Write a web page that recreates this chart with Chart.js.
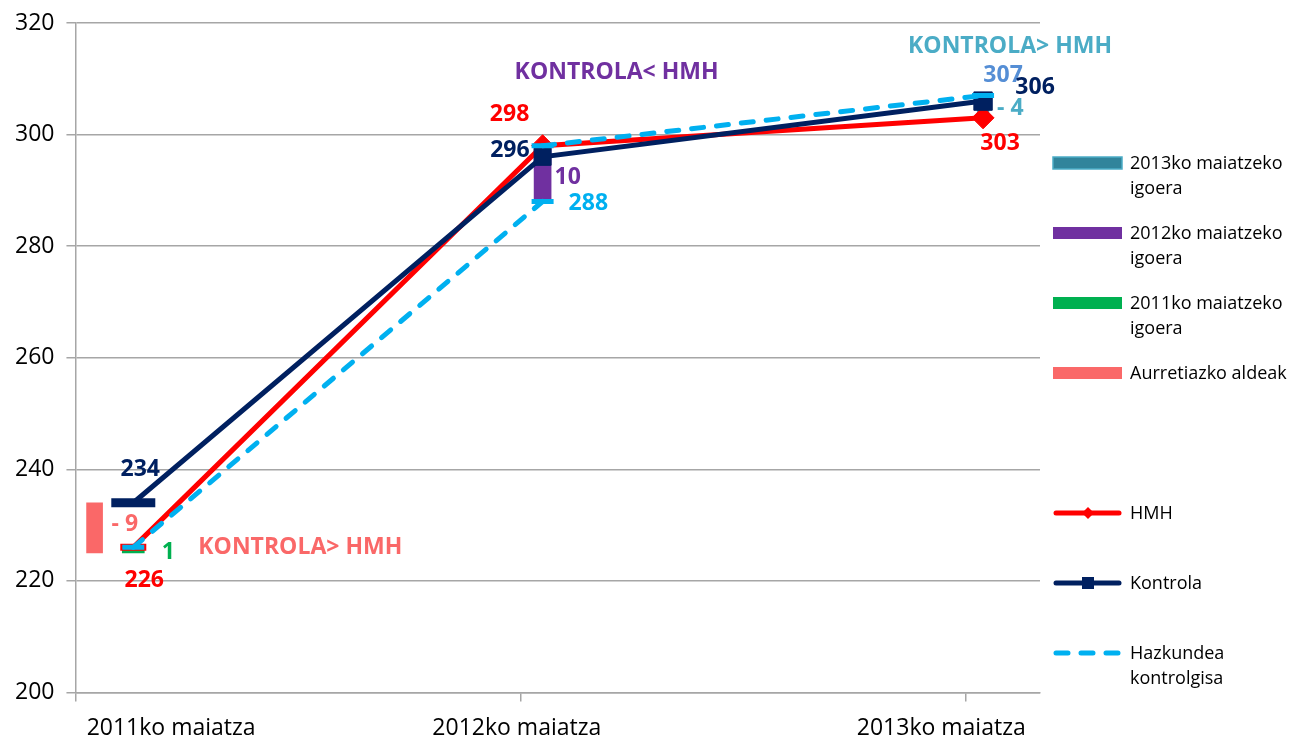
<!DOCTYPE html>
<html lang="eu">
<head>
    <meta charset="UTF-8">
    <title>HMH eta Kontrola</title>
    <script src="https://cdn.jsdelivr.net/npm/chart.js"></script>
    <style>
        body { margin: 0; background: #fff; }
        .chart-box { position: relative; width: 1295px; height: 737px; }
    </style>
</head>
<body>
    <div class="chart-box">
        <canvas id="grafikoa"></canvas>
    </div>

    <script>
    // --- datuak ---
    const categories = ['2011ko maiatza', '2012ko maiatza', '2013ko maiatza'];
    const pointX = [0.13, 1.05, 2.04];        // where each year sits on the x scale
    const labelX = [0.215, 0.992, 1.946];     // where the year names are written
    const xTicks = [0, 1, 2];
    const yTicks = [200, 220, 240, 260, 280, 300, 320];

    const hmh = [226, 298, 303];
    const kontrola = [234, 296, 306];
    const hazkundeaFrom = [226, 298];   // HMH value at start of year
    const hazkundeaTo = [288, 307];     // same growth as Kontrola, one year later

    const aurretiazkoX = 0.043;
    const aurretiazkoAldeak = [225, 234];
    const igoera2011 = [225, 226];
    const igoera2012 = [288, 298];
    const igoera2013 = [303, 307];
    const aldeZeinua = [-1, 1, 1, -1];  // aurretiazko, 2011, 2012, 2013

    const RED = '#ff0000';
    const NAVY = '#002060';
    const SKY = '#00b0f0';
    const SALMON = '#fa6868';
    const GREEN = '#00b050';
    const PURPLE = '#7030a0';
    const TEAL = '#31849b';
    const TEAL_LIGHT = '#4bacc6';
    const GRID = '#a6a6a6';
    const FONT = '"Open Sans", "Noto Sans", sans-serif';

    function alde(range, sign) {
        const v = (range[1] - range[0]) * sign;
        return v < 0 ? '- ' + Math.abs(v) : String(v);
    }

    function textAt(ctx, text, x, y, color, size, align) {
        ctx.fillStyle = color;
        ctx.textAlign = align || 'center';
        ctx.textBaseline = 'alphabetic';
        ctx.fillText(text, x, y + size * 0.36);
    }

    // value labels and notes on the plot
    const labelPlugin = {
        id: 'balioak',
        afterDatasetsDraw(chart) {
            const ctx = chart.ctx;
            const xs = chart.scales.x, ys = chart.scales.y;
            const size = 23;
            const items = [
                [String(kontrola[0]), NAVY, pointX[0], kontrola[0], 7, -35, 'center'],
                [alde(aurretiazkoAldeak, aldeZeinua[0]), SALMON, aurretiazkoX, (aurretiazkoAldeak[0] + aurretiazkoAldeak[1]) / 2, 17, -5, 'left'],
                [alde(igoera2011, aldeZeinua[1]), GREEN, pointX[0], igoera2011[0], 35, -2, 'center'],
                [String(hmh[0]), RED, pointX[0], hmh[0], 11, 31, 'center'],
                [String(hmh[1]), RED, pointX[1], hmh[1], -33, -33, 'center'],
                [String(kontrola[1]), NAVY, pointX[1], kontrola[1], -13, -8, 'right'],
                [alde(igoera2012, aldeZeinua[2]), PURPLE, pointX[1], (igoera2012[0] + igoera2012[1]) / 2, 12, 2, 'left'],
                [String(hazkundeaTo[0]), SKY, pointX[1], hazkundeaTo[0], 26, 0, 'left'],
                [String(hazkundeaTo[1]), '#558ed5', pointX[2], hazkundeaTo[1], 20, -22, 'center'],
                [String(kontrola[2]), NAVY, pointX[2], kontrola[2], 52, -15, 'center'],
                [alde(igoera2013, aldeZeinua[3]), TEAL_LIGHT, pointX[2], (igoera2013[0] + igoera2013[1]) / 2, 14, 0, 'left'],
                [String(hmh[2]), RED, pointX[2], hmh[2], 17, 24, 'center'],
                ['KONTROLA> HMH', SALMON, pointX[0], hmh[0], 167, -2, 'center'],
                ['KONTROLA< HMH', PURPLE, pointX[1], hmh[1], 74, -75, 'center'],
                ['KONTROLA> HMH', TEAL_LIGHT, pointX[2], hazkundeaTo[1], 27, -51, 'center']
            ];
            ctx.save();
            ctx.font = 'bold ' + size + 'px ' + FONT;
            items.forEach(it => {
                const x = xs.getPixelForValue(it[2]) + it[4];
                const y = ys.getPixelForValue(it[3]) + it[5];
                textAt(ctx, it[0], x, y, it[1], size, it[6]);
            });
            ctx.restore();
        }
    };

    // legend on the right, labels wrapped on two lines where needed
    const legendPlugin = {
        id: 'legenda',
        afterDraw(chart) {
            const ctx = chart.ctx;
            const left = chart.chartArea.right + 13;
            const textX = left + 77;
            const size = 18;
            ctx.save();
            ctx.font = size + 'px ' + FONT;
            let slot = 0;
            chart.data.datasets.forEach(ds => {
                if (!ds.legendKind) return;
                if (slot === 4) slot++;
                const y = 163 + slot * 70;
                slot++;

                if (ds.legendKind === 'bar') {
                    ctx.fillStyle = ds.backgroundColor;
                    ctx.fillRect(left, y - 6, 69, 12);
                    if (ds.borderWidth) {
                        ctx.strokeStyle = ds.borderColor;
                        ctx.lineWidth = 1.5;
                        ctx.strokeRect(left, y - 6, 69, 12);
                    }
                } else {
                    ctx.strokeStyle = ds.borderColor;
                    ctx.lineWidth = 5;
                    ctx.lineCap = 'round';
                    ctx.setLineDash(ds.borderDash || []);
                    ctx.beginPath();
                    ctx.moveTo(left + 3, y);
                    ctx.lineTo(left + 66, y);
                    ctx.stroke();
                    ctx.setLineDash([]);
                    const cx = left + 35;
                    ctx.fillStyle = ds.borderColor;
                    if (ds.legendMarker === 'diamond') {
                        ctx.beginPath();
                        ctx.moveTo(cx, y - 6); ctx.lineTo(cx + 6, y);
                        ctx.lineTo(cx, y + 6); ctx.lineTo(cx - 6, y);
                        ctx.closePath();
                        ctx.fill();
                    } else if (ds.legendMarker === 'square') {
                        ctx.fillRect(cx - 6, y - 6, 12, 12);
                    }
                }

                // wrap
                const words = ds.label.split(' ');
                const lines = [];
                let cur = '';
                words.forEach(w => {
                    const test = cur ? cur + ' ' + w : w;
                    if (cur && ctx.measureText(test).width > 168) {
                        lines.push(cur);
                        cur = w;
                    } else {
                        cur = test;
                    }
                });
                lines.push(cur);
                lines.forEach((l, i) => textAt(ctx, l, textX, y + i * 25, '#000', size, 'left'));
            });
            ctx.restore();
        }
    };

    function barSet(label, x, range, color, thick, order) {
        return {
            type: 'bar',
            label: label,
            data: [{ x: x, y: range }],
            backgroundColor: color,
            borderWidth: 0,
            barThickness: thick,
            grouped: false,
            order: order,
            legendKind: 'bar'
        };
    }

    const xMax = 2.168;

    const teal = barSet('2013ko maiatzeko igoera', pointX[2], igoera2013, TEAL, 12, 6);
    teal.borderColor = TEAL_LIGHT;
    teal.borderWidth = 1;

    const hazkundeaData = [
        { x: pointX[0], y: hazkundeaFrom[0] },
        { x: pointX[1], y: hazkundeaTo[0] },
        { x: pointX[1], y: null },
        { x: pointX[1], y: hazkundeaFrom[1] },
        { x: pointX[2], y: hazkundeaTo[1] }
    ];

    new Chart(document.getElementById('grafikoa'), {
        type: 'line',
        data: {
            datasets: [
                teal,
                barSet('2012ko maiatzeko igoera', pointX[1], igoera2012, PURPLE, 17, 5),
                barSet('2011ko maiatzeko igoera', pointX[0], igoera2011, GREEN, 22, 4),
                barSet('Aurretiazko aldeak', aurretiazkoX, aurretiazkoAldeak, SALMON, 16, 3),
                {
                    label: 'HMH',
                    data: hmh.map((v, i) => ({ x: pointX[i], y: v })),
                    borderColor: RED,
                    backgroundColor: RED,
                    borderWidth: 5,
                    pointStyle: ['line', 'rectRot', 'rectRot'],
                    pointRadius: [13, 11, 11],
                    pointBorderWidth: [7, 1, 1],
                    order: 2,
                    legendKind: 'line',
                    legendMarker: 'diamond'
                },
                {
                    label: 'Kontrola',
                    data: kontrola.map((v, i) => ({ x: pointX[i], y: v })),
                    borderColor: NAVY,
                    backgroundColor: NAVY,
                    borderWidth: 5,
                    pointStyle: ['line', 'rect', 'rect'],
                    pointRadius: [22, 12, 13],
                    pointBorderWidth: [9, 1, 1],
                    order: 1,
                    legendKind: 'line',
                    legendMarker: 'square'
                },
                {
                    label: 'Hazkundea kontrolgisa',
                    data: hazkundeaData,
                    borderColor: SKY,
                    backgroundColor: SKY,
                    borderWidth: 5,
                    borderDash: [12, 13],
                    borderCapStyle: 'round',
                    spanGaps: false,
                    pointStyle: 'line',
                    pointRadius: 11,
                    pointBorderWidth: 5,
                    order: 0,
                    legendKind: 'line'
                }
            ]
        },
        options: {
            responsive: true,
            maintainAspectRatio: false,
            animation: false,
            events: [],
            layout: { autoPadding: false, padding: { left: 3, right: 255, top: 23, bottom: -18 } },
            elements: { line: { tension: 0 } },
            plugins: {
                legend: { display: false },
                tooltip: { enabled: false }
            },
            scales: {
                x: {
                    type: 'linear',
                    min: 0,
                    max: xMax,
                    offset: false,
                    weight: 0,
                    afterBuildTicks: s => { s.ticks = xTicks.map(v => ({ value: v })); },
                    ticks: { display: false },
                    grid: { offset: false, drawOnChartArea: false, drawTicks: true, tickLength: 9, color: GRID, lineWidth: 1.5 },
                    border: { display: true, color: GRID, width: 1.5 }
                },
                x2: {
                    type: 'linear',
                    position: 'bottom',
                    min: 0,
                    max: xMax,
                    weight: 1,
                    afterBuildTicks: s => { s.ticks = labelX.map(v => ({ value: v })); },
                    ticks: {
                        autoSkip: false,
                        maxRotation: 0,
                        padding: 13,
                        color: '#000',
                        font: { family: FONT, size: 23 },
                        callback: (v, i) => categories[i]
                    },
                    grid: { display: false, drawTicks: false },
                    border: { display: false }
                },
                y: {
                    min: yTicks[0],
                    max: yTicks[yTicks.length - 1],
                    afterBuildTicks: s => { s.ticks = yTicks.map(v => ({ value: v })); },
                    ticks: {
                        padding: 12,
                        color: '#000',
                        font: { family: FONT, size: 23, lineHeight: 0.8 }
                    },
                    grid: { color: GRID, lineWidth: 1.5, tickLength: 9 },
                    border: { display: true, color: GRID, width: 1.5 }
                }
            }
        },
        plugins: [labelPlugin, legendPlugin]
    });
    </script>
</body>
</html>
